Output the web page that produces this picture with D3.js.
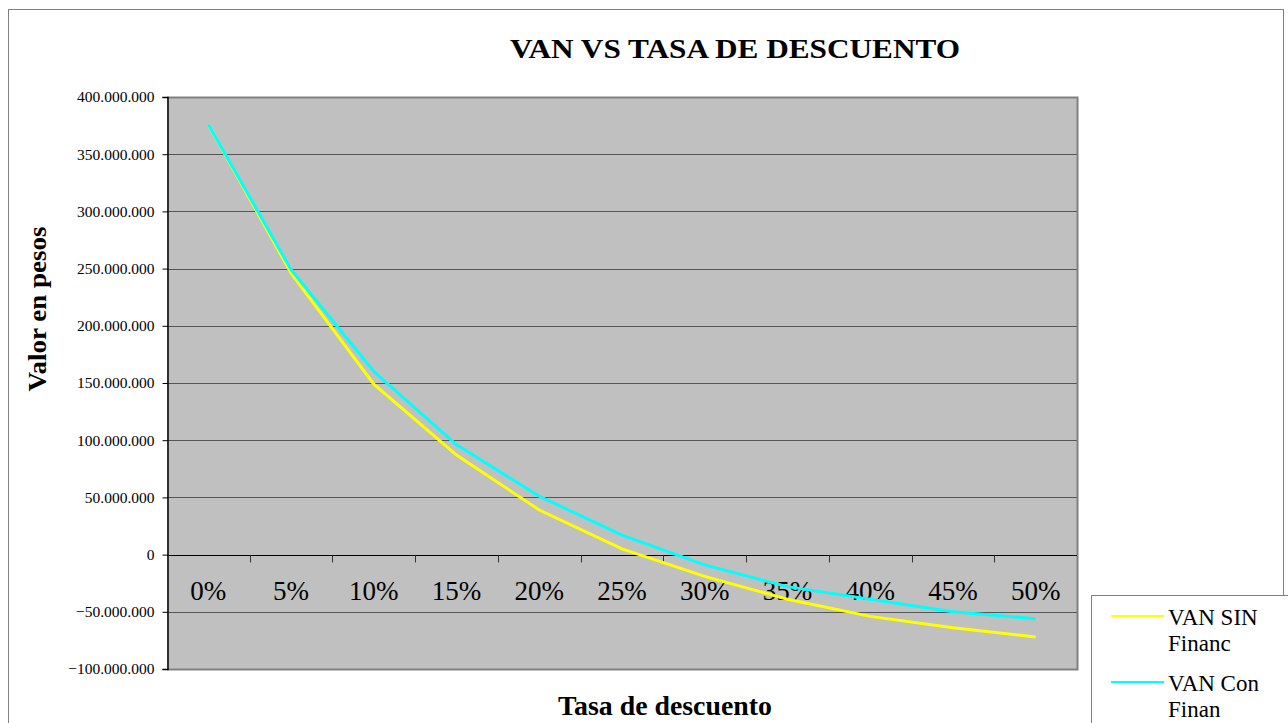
<!DOCTYPE html>
<html>
<head>
<meta charset="utf-8">
<script src="https://cdn.jsdelivr.net/npm/d3@7"></script>
<style>
  body { margin: 0; background: #fff; }
</style>
</head>
<body>
<div id="chart"></div>
<script>
// tasas de descuento (eje X)
var tasas = ["0%", "5%", "10%", "15%", "20%", "25%", "30%", "35%", "40%", "45%", "50%"];
// VAN sin financiamiento
var vanSin = [376000000, 246000000, 149000000, 87000000, 39000000, 5000000, -19000000, -39000000, -54000000, -64000000, -72000000];
// VAN con financiamiento
var vanCon = [376000000, 249000000, 160000000, 96000000, 51000000, 17000000, -9000000, -28000000, -39000000, -50000000, -56000000];
var yTicks = [400000000, 350000000, 300000000, 250000000, 200000000, 150000000, 100000000, 50000000, 0, -50000000, -100000000];

var series = [
    {name: ["VAN SIN", "Financ"], values: vanSin, color: "#ffff00"},
    {name: ["VAN Con", "Finan"], values: vanCon, color: "#00ffff"}
];

var serif = "'Liberation Serif', 'Times New Roman', Times, serif";
var width = 1288, height = 723;
var plot = {left: 167, right: 1077, top: 97, bottom: 669};

var svg = d3.select("#chart").append("svg")
    .attr("width", width)
    .attr("height", height)
    .attr("font-family", serif);

// marco exterior
svg.append("rect")
    .attr("x", 8.5).attr("y", 9.5)
    .attr("width", 1275).attr("height", 730)
    .attr("fill", "#fff")
    .attr("stroke", "#808080");

var x = d3.scaleBand().domain(tasas).range([plot.left, plot.right]);
var y = d3.scaleLinear().domain([-100000000, 400000000]).range([plot.bottom, plot.top]);

// fondo del area de trazado
svg.append("rect")
    .attr("x", plot.left).attr("y", plot.top)
    .attr("width", plot.right - plot.left).attr("height", plot.bottom - plot.top)
    .attr("fill", "#c0c0c0");

// lineas de cuadricula
svg.append("g").selectAll("line")
    .data(yTicks.filter(function (d) { return d !== 0 && d !== -100000000; }))
    .enter().append("line")
    .attr("x1", plot.left).attr("x2", plot.right)
    .attr("y1", function (d) { return Math.round(y(d)) + 0.5; })
    .attr("y2", function (d) { return Math.round(y(d)) + 0.5; })
    .attr("stroke", "#555")
    .attr("stroke-width", 1);

// borde gris (arriba, derecha, abajo)
svg.append("path")
    .attr("d", "M" + plot.left + "," + (plot.top + 0.5) + "H" + (plot.right + 0.5) + "V" + (plot.bottom + 0.5) + "H" + plot.left)
    .attr("fill", "none")
    .attr("stroke", "#808080")
    .attr("stroke-width", 2);

// eje Y
var fmt = function (d) {
    return d3.format(",")(d).replace(/,/g, ".");
};
var yAxis = svg.append("g")
    .attr("transform", "translate(" + (plot.left + 0.5) + ",0)")
    .call(d3.axisLeft(y).tickValues(yTicks).tickSize(5).tickPadding(8).tickFormat(fmt))
    .attr("font-family", serif)
    .attr("font-size", 15.5);
yAxis.selectAll("text").attr("fill", "#000");
yAxis.selectAll("line, path").attr("stroke", "#000");
yAxis.select(".domain").attr("stroke-width", 1.5);

// eje X en cero
var x0 = Math.round(y(0)) + 0.5;
var xAxis = svg.append("g")
    .attr("transform", "translate(0," + x0 + ")");
xAxis.append("line")
    .attr("x1", plot.left).attr("x2", plot.right)
    .attr("stroke", "#000").attr("stroke-width", 1.2);
xAxis.selectAll(".tk")
    .data(tasas.slice(1))
    .enter().append("line")
    .attr("class", "tk")
    .attr("x1", function (d) { return Math.round(x(d)) + 0.5; })
    .attr("x2", function (d) { return Math.round(x(d)) + 0.5; })
    .attr("y1", 0).attr("y2", 7)
    .attr("stroke", "#333");
xAxis.selectAll(".lbl")
    .data(tasas)
    .enter().append("text")
    .attr("class", "lbl")
    .attr("x", function (d) { return x(d) + x.bandwidth() / 2; })
    .attr("y", 44)
    .attr("text-anchor", "middle")
    .attr("font-size", 27)
    .text(function (d) { return d; });

// lineas de las series
var line = d3.line()
    .x(function (d, i) { return x(tasas[i]) + x.bandwidth() / 2; })
    .y(function (d) { return y(d); });

svg.append("g").selectAll("path")
    .data(series)
    .enter().append("path")
    .attr("d", function (d) { return line(d.values); })
    .attr("fill", "none")
    .attr("stroke", function (d) { return d.color; })
    .attr("stroke-width", 3);

// titulos
svg.append("text")
    .attr("x", 735).attr("y", 58)
    .attr("text-anchor", "middle")
    .attr("font-size", 28)
    .attr("font-weight", "bold")
    .attr("textLength", 450)
    .attr("lengthAdjust", "spacingAndGlyphs")
    .text("VAN VS TASA DE DESCUENTO");

svg.append("text")
    .attr("x", 665).attr("y", 715)
    .attr("text-anchor", "middle")
    .attr("font-size", 28)
    .attr("font-weight", "bold")
    .attr("textLength", 214)
    .attr("lengthAdjust", "spacingAndGlyphs")
    .text("Tasa de descuento");

svg.append("text")
    .attr("transform", "translate(46,309) rotate(-90)")
    .attr("text-anchor", "middle")
    .attr("font-size", 26)
    .attr("font-weight", "bold")
    .attr("textLength", 165)
    .attr("lengthAdjust", "spacingAndGlyphs")
    .text("Valor en pesos");

// leyenda
var legend = svg.append("g").attr("transform", "translate(1091,595)");
legend.append("rect")
    .attr("x", 0.5).attr("y", 0.5)
    .attr("width", 220).attr("height", 200)
    .attr("fill", "#fff")
    .attr("stroke", "#808080");

var item = legend.selectAll(".item")
    .data(series)
    .enter().append("g")
    .attr("class", "item")
    .attr("transform", function (d, i) { return "translate(0," + (i * 66) + ")"; });
item.append("line")
    .attr("x1", 20).attr("x2", 73)
    .attr("y1", 21).attr("y2", 21)
    .attr("stroke", function (d) { return d.color; })
    .attr("stroke-width", 2);
item.append("text")
    .attr("x", 77).attr("y", 30)
    .attr("font-size", 23)
    .text(function (d) { return d.name[0]; });
item.append("text")
    .attr("x", 77).attr("y", 56)
    .attr("font-size", 23)
    .text(function (d) { return d.name[1]; });
</script>
</body>
</html>
